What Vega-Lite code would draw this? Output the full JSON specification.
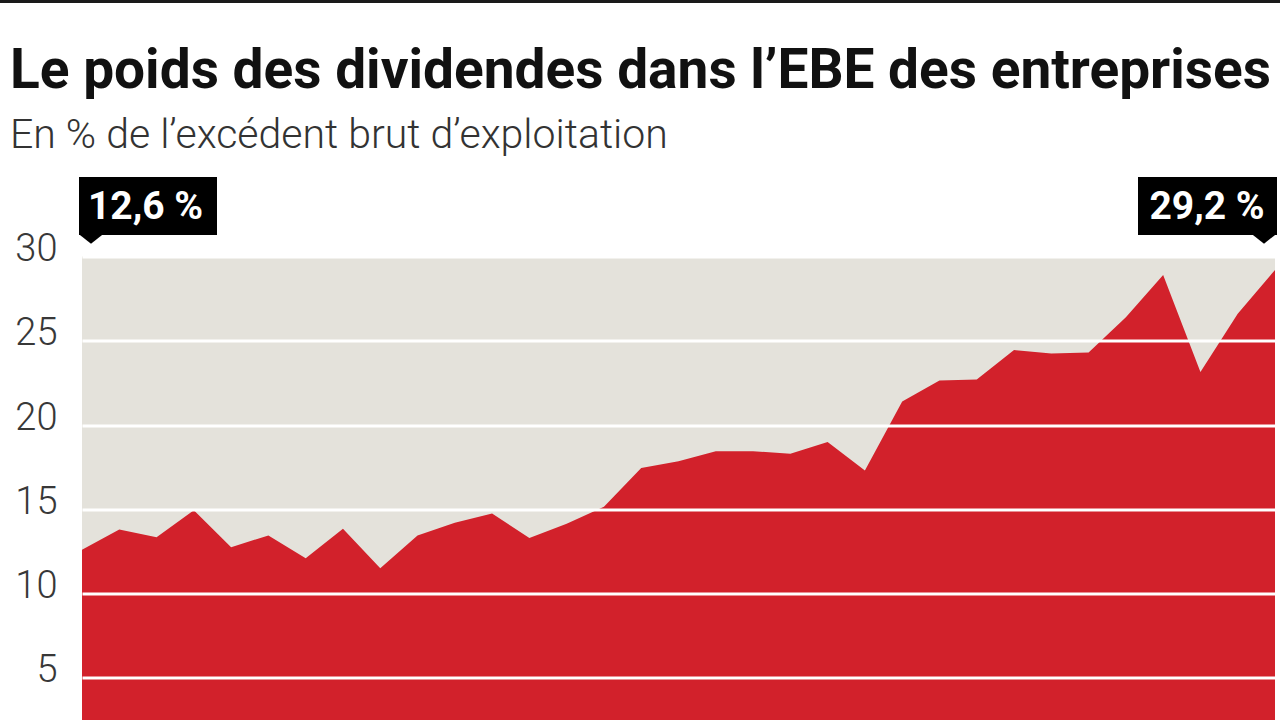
{
  "$schema": "https://vega.github.io/schema/vega-lite/v6.json",
  "width": 1193,
  "height": 463.5,
  "autosize": {"type": "none"},
  "padding": {"left": 82, "top": 256.5, "right": 5, "bottom": 0},
  "background": "white",
  "config": {
    "view": {"stroke": null, "fill": "#e4e2db"},
    "font": "Roboto"
  },
  "title": {
    "text": "Le poids des dividendes dans l’EBE des entreprises",
    "subtitle": "En % de l’excédent brut d’exploitation",
    "anchor": "start",
    "frame": "group",
    "dx": -72,
    "offset": -157,
    "font": "Roboto",
    "fontSize": 55,
    "fontWeight": "bold",
    "color": "#111111",
    "subtitleFont": "Roboto",
    "subtitleFontSize": 41,
    "subtitleFontWeight": 300,
    "subtitleColor": "#333333",
    "subtitlePadding": 16
  },
  "datasets": {
    "series": [
      {"year": 1990, "value": 12.6},
      {"year": 1991, "value": 13.8},
      {"year": 1992, "value": 13.35},
      {"year": 1993, "value": 14.95},
      {"year": 1994, "value": 12.75},
      {"year": 1995, "value": 13.45},
      {"year": 1996, "value": 12.1},
      {"year": 1997, "value": 13.85},
      {"year": 1998, "value": 11.5},
      {"year": 1999, "value": 13.45},
      {"year": 2000, "value": 14.2},
      {"year": 2001, "value": 14.75},
      {"year": 2002, "value": 13.3},
      {"year": 2003, "value": 14.15},
      {"year": 2004, "value": 15.15},
      {"year": 2005, "value": 17.45},
      {"year": 2006, "value": 17.85},
      {"year": 2007, "value": 18.45},
      {"year": 2008, "value": 18.45},
      {"year": 2009, "value": 18.3},
      {"year": 2010, "value": 19.0},
      {"year": 2011, "value": 17.3},
      {"year": 2012, "value": 21.4},
      {"year": 2013, "value": 22.65},
      {"year": 2014, "value": 22.7},
      {"year": 2015, "value": 24.45},
      {"year": 2016, "value": 24.25},
      {"year": 2017, "value": 24.3},
      {"year": 2018, "value": 26.4},
      {"year": 2019, "value": 28.9},
      {"year": 2020, "value": 23.15},
      {"year": 2021, "value": 26.6},
      {"year": 2022, "value": 29.2}
    ],
    "notes": [
      {"year": 1990, "label": "12,6 %"},
      {"year": 2022, "label": "29,2 %"}
    ]
  },
  "layer": [
    {
      "data": {"name": "series"},
      "mark": {"type": "area", "color": "#d2212b", "clip": true, "interpolate": "linear"},
      "encoding": {
        "x": {
          "field": "year",
          "type": "quantitative",
          "scale": {"domain": [1990, 2022], "nice": false, "zero": false},
          "axis": null
        },
        "y": {
          "field": "value",
          "type": "quantitative",
          "stack": null,
          "scale": {"domain": [2.5, 30], "nice": false, "zero": false},
          "axis": {
            "values": [5, 10, 15, 20, 25, 30],
            "title": null,
            "grid": true,
            "gridColor": "#ffffff",
            "gridWidth": 3,
            "gridOpacity": 1,
            "domain": false,
            "ticks": false,
            "labelFont": "Roboto",
            "labelFontSize": 38,
            "labelFontWeight": 300,
            "labelColor": "#383838",
            "labelPadding": 25,
            "labelFlush": false,
            "labelOverlap": false,
            "labelBaseline": "middle",
            "labelOffset": -7,
            "zindex": 1
          }
        },
        "y2": {"datum": 0}
      }
    },
    {
      "data": {"name": "notes"},
      "mark": {"type": "rule", "color": "#1a1a1a", "strokeWidth": 3, "clip": false, "xOffset": -82, "x2Offset": 5},
      "encoding": {
        "x": {"datum": 1990, "type": "quantitative"},
        "x2": {"datum": 2022},
        "y": {"datum": 45.13}
      }
    },
    {
      "data": {"name": "notes"},
      "transform": [{"filter": "datum.year == 1990"}],
      "layer": [
        {
          "mark": {"type": "rect", "color": "#000000", "xOffset": -3, "x2Offset": 135},
          "encoding": {
            "x": {"field": "year", "type": "quantitative"},
            "x2": {"field": "year"},
            "y": {"datum": 34.72},
            "y2": {"datum": 31.28}
          }
        },
        {
          "mark": {"type": "point", "shape": "M-1,-0.4L1,-0.4L0,0.4Z", "filled": true, "color": "#000000", "opacity": 1, "size": 576, "xOffset": 9, "strokeWidth": 0},
          "encoding": {
            "x": {"field": "year", "type": "quantitative"},
            "y": {"datum": 31.04}
          }
        },
        {
          "mark": {"type": "text", "color": "#ffffff", "font": "Roboto", "fontSize": 39, "fontWeight": "bold", "align": "center", "baseline": "alphabetic", "xOffset": 63.5},
          "encoding": {
            "x": {"field": "year", "type": "quantitative"},
            "y": {"datum": 32.2},
            "text": {"field": "label"}
          }
        }
      ]
    },
    {
      "data": {"name": "notes"},
      "transform": [{"filter": "datum.year == 2022"}],
      "layer": [
        {
          "mark": {"type": "rect", "color": "#000000", "xOffset": -137, "x2Offset": 2},
          "encoding": {
            "x": {"field": "year", "type": "quantitative"},
            "x2": {"field": "year"},
            "y": {"datum": 34.72},
            "y2": {"datum": 31.28}
          }
        },
        {
          "mark": {"type": "point", "shape": "M-1,-0.4L1,-0.4L0,0.4Z", "filled": true, "color": "#000000", "opacity": 1, "size": 576, "xOffset": -11, "strokeWidth": 0},
          "encoding": {
            "x": {"field": "year", "type": "quantitative"},
            "y": {"datum": 31.04}
          }
        },
        {
          "mark": {"type": "text", "color": "#ffffff", "font": "Roboto", "fontSize": 39, "fontWeight": "bold", "align": "center", "baseline": "alphabetic", "xOffset": -68},
          "encoding": {
            "x": {"field": "year", "type": "quantitative"},
            "y": {"datum": 32.2},
            "text": {"field": "label"}
          }
        }
      ]
    }
  ]
}
